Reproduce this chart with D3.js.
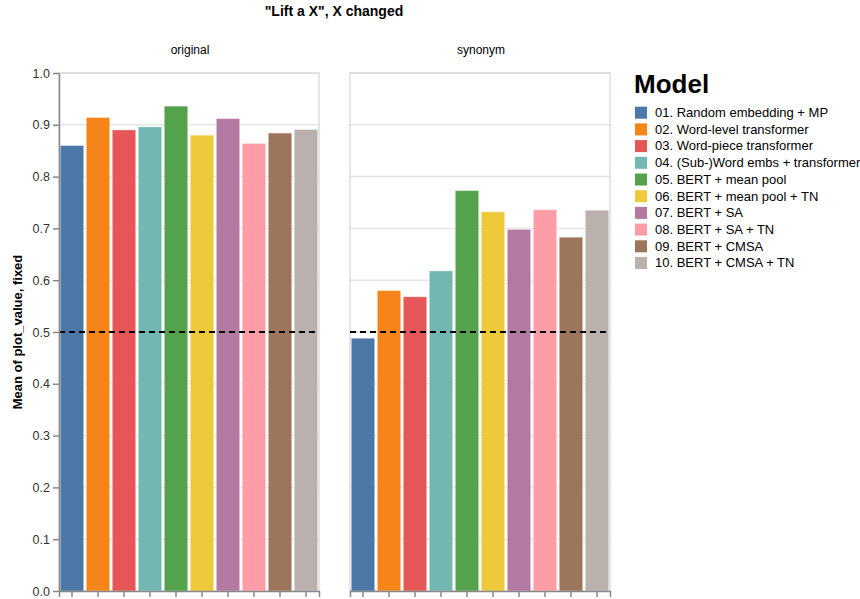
<!DOCTYPE html>
<html>
<head>
<meta charset="utf-8">
<script src="https://cdn.jsdelivr.net/npm/d3@7"></script>
<style>
  body { margin: 0; background: #fff; }
  text { font-family: "Liberation Sans", Arial, Helvetica, sans-serif; }
</style>
</head>
<body>
<svg id="chart" width="860" height="599"></svg>
<script>
const models = [
  "01. Random embedding + MP",
  "02. Word-level transformer",
  "03. Word-piece transformer",
  "04. (Sub-)Word embs + transformer",
  "05. BERT + mean pool",
  "06. BERT + mean pool + TN",
  "07. BERT + SA",
  "08. BERT + SA + TN",
  "09. BERT + CMSA",
  "10. BERT + CMSA + TN"
];
const facets = ["original", "synonym"];
const originalValues = [0.860, 0.914, 0.890, 0.896, 0.936, 0.880, 0.912, 0.864, 0.884, 0.891];
const synonymValues  = [0.488, 0.580, 0.568, 0.618, 0.773, 0.732, 0.698, 0.736, 0.683, 0.735];
const yTicks = [0.0, 0.1, 0.2, 0.3, 0.4, 0.5, 0.6, 0.7, 0.8, 0.9, 1.0];
const threshold = 0.5;
const palette = ["#4c78a8", "#f58518", "#e45756", "#72b7b2", "#54a24b",
                 "#eeca3b", "#b279a2", "#ff9da6", "#9d755d", "#bab0ac"];

const seriesByFacet = { original: originalValues, synonym: synonymValues };

const svg = d3.select("#chart");
const plotTop = 73, plotH = 518, panelW = 260;
const panelX = { original: 59, synonym: 350 };

const y = d3.scaleLinear().domain([0, 1]).range([plotTop + plotH, plotTop]);
const x = d3.scaleBand().domain(models).range([0, panelW]).paddingInner(0.1).paddingOuter(0.05);
const color = d3.scaleOrdinal().domain(models).range(palette);

// Chart title
svg.append("text")
  .attr("x", 334).attr("y", 16)
  .attr("text-anchor", "middle")
  .attr("font-size", 14).attr("font-weight", "bold").attr("fill", "#000")
  .text('"Lift a X", X changed');

facets.forEach((f, fi) => {
  const g = svg.append("g").attr("transform", `translate(${panelX[f]},0)`);

  // facet header
  g.append("text")
    .attr("x", panelW / 2 + 1).attr("y", 54)
    .attr("text-anchor", "middle")
    .attr("font-size", 12).attr("fill", "#000")
    .text(f);

  // grid
  g.append("g").selectAll("line").data(yTicks).join("line")
    .attr("x1", 0).attr("x2", panelW)
    .attr("y1", d => y(d)).attr("y2", d => y(d))
    .attr("stroke", "#e6e6e6").attr("stroke-width", 1.5);

  // frame
  g.append("rect")
    .attr("x", 0).attr("y", plotTop).attr("width", panelW).attr("height", plotH)
    .attr("fill", "none").attr("stroke", "#dddddd").attr("stroke-width", 1.5);

  // bars
  const vals = seriesByFacet[f];
  g.append("g").selectAll("rect").data(models).join("rect")
    .attr("x", d => x(d))
    .attr("width", x.bandwidth())
    .attr("y", (d, i) => y(vals[i]))
    .attr("height", (d, i) => y(0) - y(vals[i]))
    .attr("fill", d => color(d))
    .attr("stroke", "#ffffff").attr("stroke-opacity", 0.35).attr("stroke-width", 1);

  // threshold rule
  g.append("line")
    .attr("x1", 0).attr("x2", panelW)
    .attr("y1", y(threshold)).attr("y2", y(threshold))
    .attr("stroke", "#000").attr("stroke-width", 2)
    .attr("stroke-dasharray", "6,4");

  // x axis (ticks only, no labels)
  const xAxis = g.append("g")
    .attr("transform", `translate(0,${plotTop + plotH})`)
    .call(d3.axisBottom(x).tickSize(6).tickFormat(""));
  xAxis.select(".domain").attr("stroke", "#888").attr("stroke-width", 1.5);
  xAxis.selectAll(".tick line").attr("stroke", "#888").attr("stroke-width", 1.5);

  if (fi === 0) {
    const yAxis = g.append("g")
      .call(d3.axisLeft(y).tickValues(yTicks).tickFormat(d3.format(".1f")).tickSize(6).tickSizeOuter(0));
    yAxis.select(".domain").attr("stroke", "#888").attr("stroke-width", 1.5);
    yAxis.selectAll(".tick line").attr("stroke", "#888").attr("stroke-width", 1.5);
    yAxis.selectAll(".tick text")
      .attr("font-size", 12.5).attr("fill", "#333")
      .attr("font-family", '"Liberation Sans", Arial, sans-serif');
  }
});

// y axis title
svg.append("text")
  .attr("transform", `translate(22,${plotTop + plotH / 2}) rotate(-90)`)
  .attr("text-anchor", "middle")
  .attr("font-size", 13).attr("font-weight", "bold").attr("fill", "#000")
  .text("Mean of plot_value, fixed");

// legend
const legend = svg.append("g").attr("transform", "translate(635,0)");
legend.append("text")
  .attr("x", -1).attr("y", 93)
  .attr("font-size", 26).attr("font-weight", "bold").attr("fill", "#000")
  .text("Model");
const rowH = 16.7;
const rows = legend.selectAll("g.row").data(models).join("g")
  .attr("class", "row")
  .attr("transform", (d, i) => `translate(0,${112.7 + i * rowH})`);
rows.append("rect")
  .attr("x", 0).attr("y", -6).attr("width", 12).attr("height", 12)
  .attr("fill", d => color(d));
rows.append("text")
  .attr("x", 20).attr("y", 4.3)
  .attr("font-size", 13).attr("fill", "#000")
  .text(d => d);
</script>
</body>
</html>
